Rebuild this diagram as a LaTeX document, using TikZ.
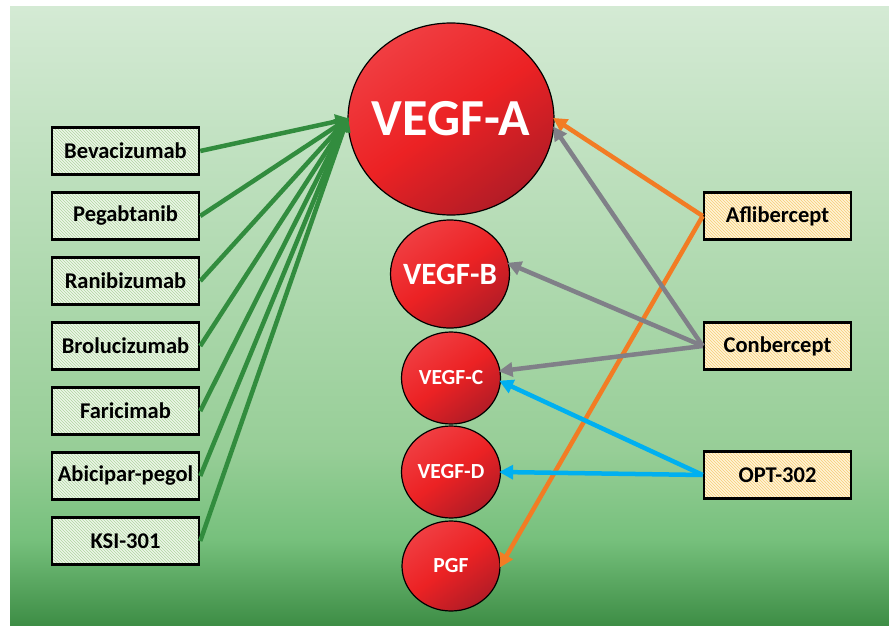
\documentclass[tikz,border=0pt]{standalone}
\usepackage{fontspec}
\setmainfont{Carlito}
\usetikzlibrary{shapes.geometric,arrows.meta,patterns}

\definecolor{bgtop}{RGB}{212,234,212}
\definecolor{bgmid}{RGB}{151,206,151}
\definecolor{bglow}{RGB}{118,192,124}
\definecolor{bgbot}{RGB}{61,141,69}
\definecolor{redlight}{RGB}{240,62,66}
\definecolor{redmid}{RGB}{236,34,36}
\definecolor{reddark}{RGB}{178,28,38}
\definecolor{antibg}{RGB}{236,246,232}
\definecolor{antiline}{RGB}{176,214,160}
\definecolor{trapbg}{RGB}{255,244,214}
\definecolor{trapline}{RGB}{246,204,120}
\definecolor{greenarrow}{RGB}{50,140,62}
\definecolor{orangearrow}{RGB}{242,124,36}
\definecolor{grayarrow}{RGB}{128,128,136}
\definecolor{bluearrow}{RGB}{0,176,240}

\begin{document}
\begin{tikzpicture}[x=1pt,y=-1pt,>={Triangle[length=14pt,width=14pt]}]
    \tikzstyle{drug}=[rectangle,draw=black,line width=2.5pt,minimum width=147pt,minimum height=47pt,inner sep=0pt,font=\fontsize{22.5}{26}\selectfont\bfseries]
    \tikzstyle{antibody}=[drug,preaction={fill=antibg},pattern=north west lines,pattern color=antiline]
    \tikzstyle{trap}=[drug,preaction={fill=trapbg},pattern=north west lines,pattern color=trapline]
    \tikzstyle{factor}=[ellipse,draw=black,line width=1.2pt,inner sep=-20pt,text=white,top color=redlight,bottom color=reddark,middle color=redmid,shading angle=35]
    \tikzstyle{link}=[->,line width=4.5pt,shorten >=-2pt]

    \useasboundingbox (0,0) rectangle (889,626);

    %%% BACKGROUND
    \fill[top color=bgtop,bottom color=bgmid] (10,7) rectangle (889,450.5);
    \fill[top color=bgmid,bottom color=bglow] (10,450) rectangle (889,540.5);
    \fill[top color=bglow,bottom color=bgbot] (10,540) rectangle (889,626);

    %%% DRAW THE NODES
    \node[factor,minimum width=206pt,minimum height=192pt,font=\fontsize{52}{58}\selectfont\bfseries] (VA) at (451,119) {VEGF-A};
    \node[factor,minimum width=119pt,minimum height=108pt,font=\fontsize{31}{35}\selectfont\bfseries] (VB) at (450,274) {VEGF-B};
    \node[factor,minimum width=99pt,minimum height=92pt,font=\fontsize{21.5}{25}\selectfont\bfseries] (VC) at (451,378) {VEGF-C};
    \node[factor,minimum width=99pt,minimum height=92pt,font=\fontsize{21.5}{25}\selectfont\bfseries] (VD) at (451,472) {VEGF-D};
    \node[factor,minimum width=98pt,minimum height=90pt,font=\fontsize{21.5}{25}\selectfont\bfseries] (PGF) at (451,566) {PGF};

    \foreach \name / \y in {Bevacizumab/1,Pegabtanib/2,Ranibizumab/3,Brolucizumab/4,Faricimab/5,Abicipar-pegol/6,KSI-301/7}
        \node[antibody] (L-\y) at (125.5,86+65*\y) {\name};

    \node[trap] (Afl) at (777.5,216) {Aflibercept};
    \node[trap] (Con) at (777.5,346) {Conbercept};
    \node[trap] (Opt) at (777.5,475) {OPT-302};

    %%% DRAW THE PATHS
    \foreach \source in {1,...,7}
        \draw[link,greenarrow] (L-\source.east) -- (VA.west);

    \draw[link,orangearrow] (Afl.west) -- (VA.east);
    \draw[link,orangearrow] (Afl.west) -- (PGF.east);
    \draw[link,grayarrow] (Con.west) -- (VA.-5);
    \draw[link,grayarrow] (Con.west) -- (VB.10);
    \draw[link,grayarrow] (Con.west) -- (VC.8);
    \draw[link,bluearrow] (Opt.west) -- (VC.-4);
    \draw[link,bluearrow] (Opt.west) -- (VD.east);

\end{tikzpicture}
\end{document}
